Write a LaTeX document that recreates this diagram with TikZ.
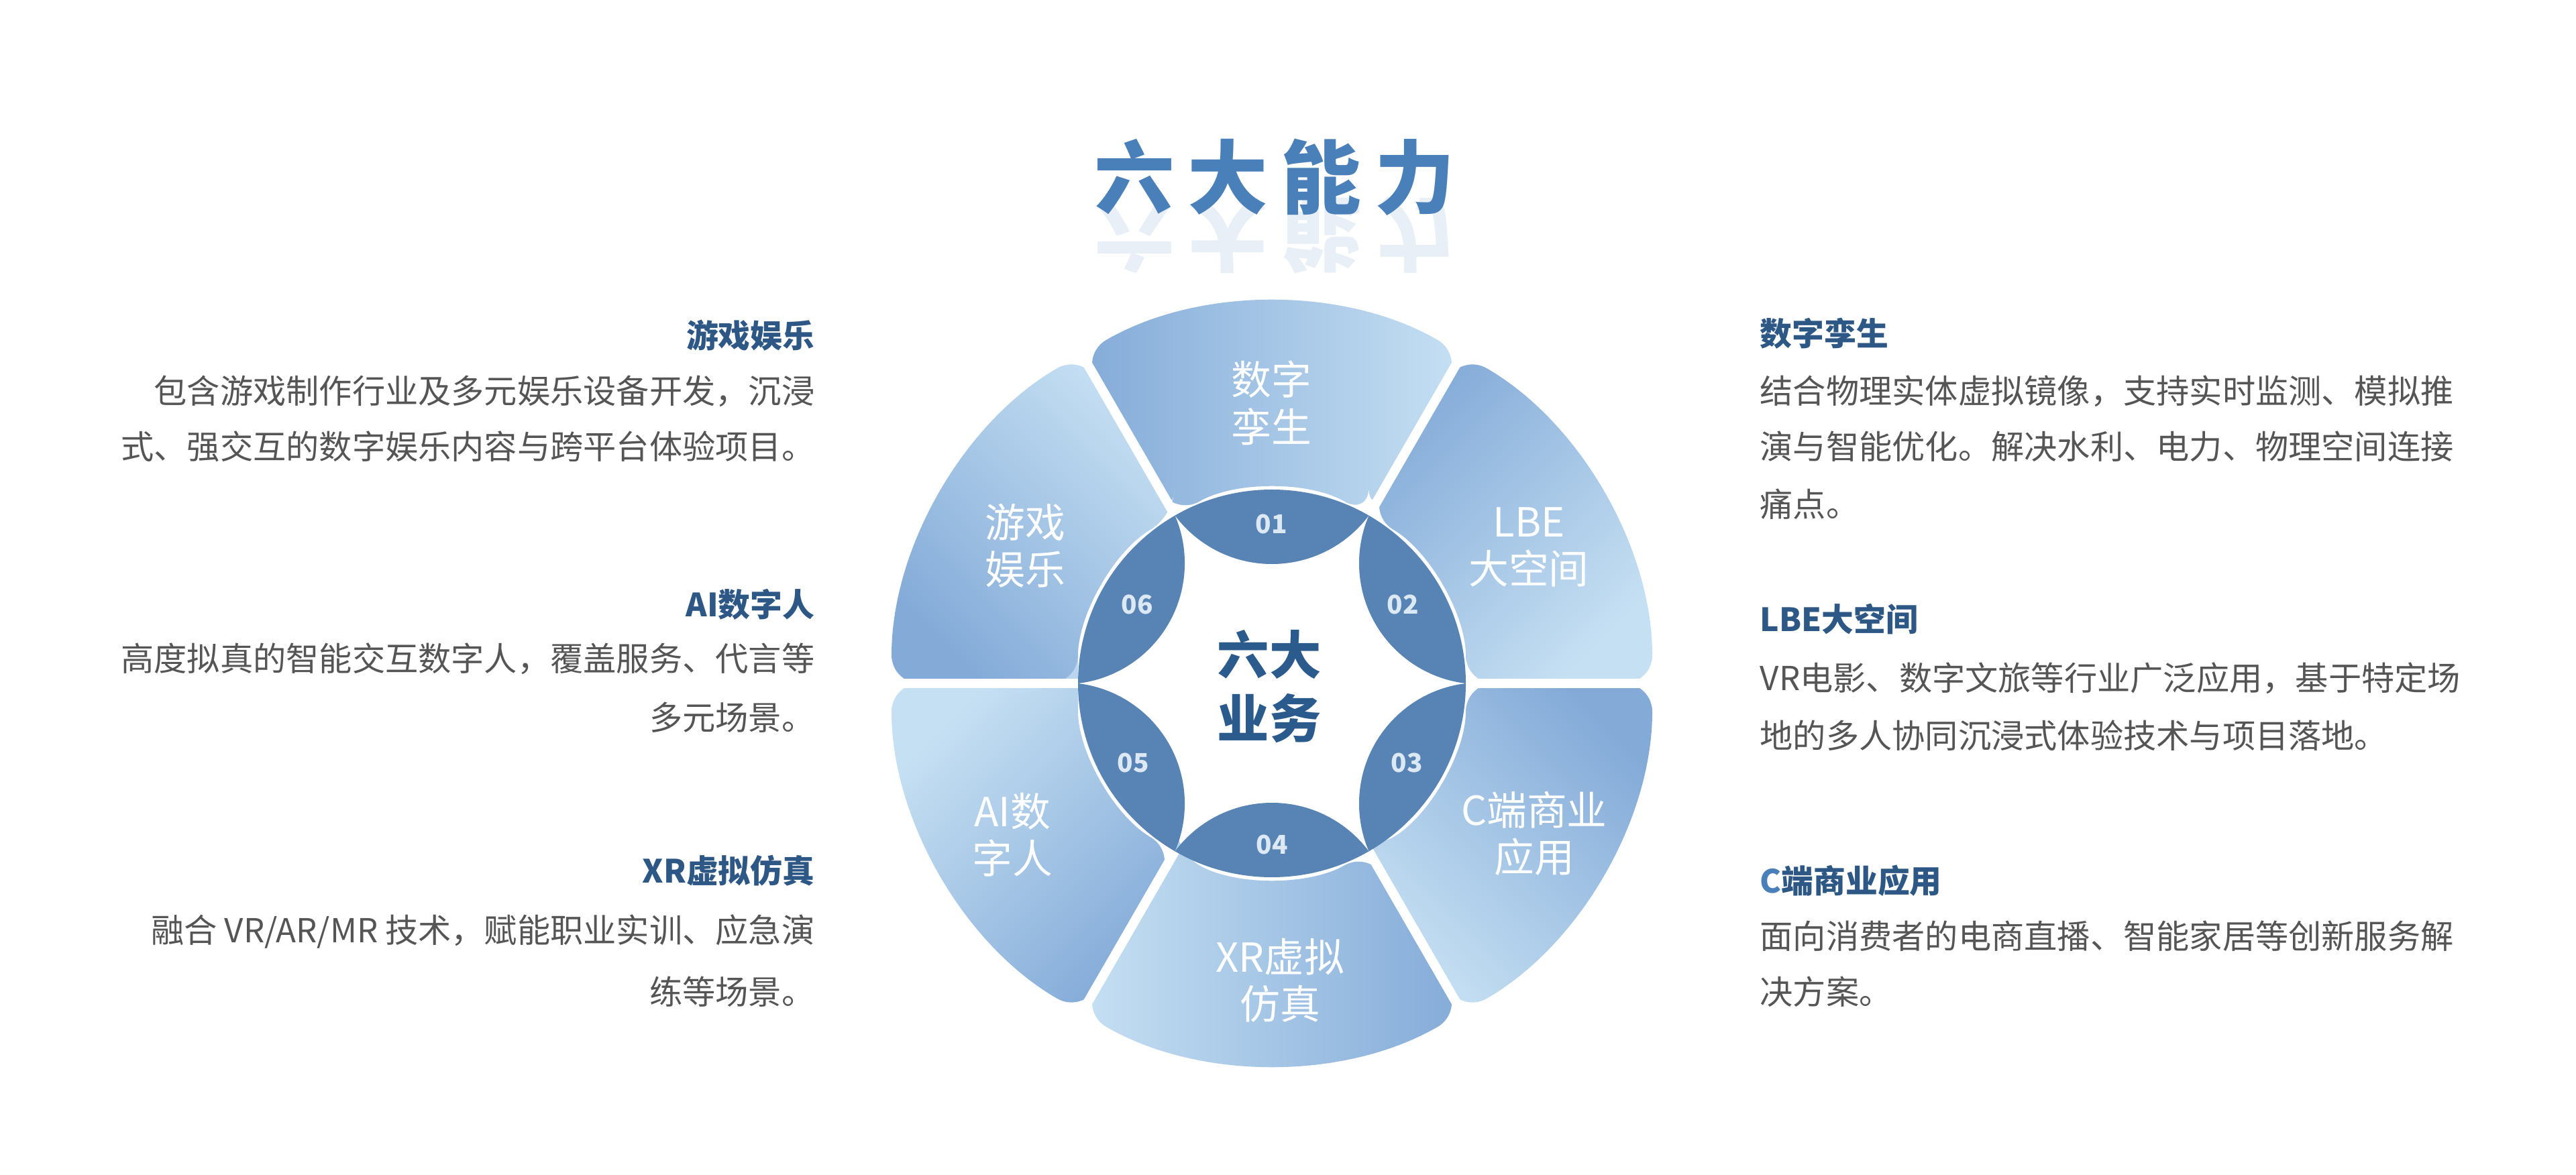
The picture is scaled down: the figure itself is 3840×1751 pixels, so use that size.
\documentclass[tikz,border=0pt]{standalone}
\usepackage{fontspec}
\usetikzlibrary{calc}
\setmainfont{Noto Sans CJK SC}
\newfontfamily\cjk{Noto Sans CJK SC}
\definecolor{lobe}{HTML}{5784B5}
\definecolor{sdark}{HTML}{84ABD8}
\definecolor{slight}{HTML}{C6E0F3}
\definecolor{head}{HTML}{2D5886}
\definecolor{body}{HTML}{555555}
\definecolor{ctext}{HTML}{2B5A8C}
\definecolor{ttl}{HTML}{4A80BA}
\definecolor{numc}{HTML}{DCE8F4}
\tikzset{
 sectlabel/.style={text=white,font=\cjk\fontsize{17}{20}\selectfont,align=center},
 numlabel/.style={text=numc,font=\cjk\bfseries\fontsize{11}{13}\selectfont},
 headl/.style={text=head,font=\cjk\bfseries\fontsize{13.6}{16}\selectfont,inner sep=0},
 bodyl/.style={text=body,font=\cjk\fontsize{14}{16}\selectfont,inner sep=0},
}
\begin{document}
\begin{tikzpicture}[x=0.01cm,y=0.01cm]
\useasboundingbox[fill=white] (0,0) rectangle (3840,1751);
\coordinate (C) at (1896,732);
% title
\node[text=ttl,font=\cjk\bfseries\fontsize{34}{40}\selectfont] (title) at (1900,1487) {六\,大\,能\,力};
\node[text=ttl,opacity=0.12,yscale=-1,font=\cjk\bfseries\fontsize{34}{40}\selectfont] (refl) at (1900,1400) {六\,大\,能\,力};
% sectors
\foreach \a/\sa in {90/90,30/45,-30/-45,-90/-90,-150/-135,150/135}{
  \shade[rounded corners=12, top color=sdark, bottom color=slight, shading angle=\sa]
   ($(C)+(\a-30:289)$) -- ($(C)+(\a-30:567)$) arc[start angle=\a-30,end angle=\a+30,radius=567]
   -- ($(C)+(\a+30:289)$) arc[start angle=\a+30,end angle=\a-30,radius=289] -- cycle;
}
\foreach \a in {0,60,...,300}{
  \draw[white,line width=0.14cm] ($(C)+(\a:287)$) -- ($(C)+(\a:600)$);
}
\begin{scope}
\clip (C) circle (289);
\foreach \a in {90,30,-30,-90,-150,150}{
  \fill[lobe] ($(C)+(\a:358.5)$) circle (180.5);
}
\end{scope}
% center
\node[text=ctext,font=\cjk\bfseries\fontsize{22}{27}\selectfont,align=center] (ctr) at (1892,727) {六大\\业务};
% sector labels
\node[sectlabel] (s1) at (1895,1150) {数字\\孪生};
\node[sectlabel] (s2) at (2279,935) {LBE\\大空间};
\node[sectlabel] (s3) at (2287,508) {C端商业\\应用};
\node[sectlabel] (s4) at (1908,289) {XR虚拟\\仿真};
\node[sectlabel] (s5) at (1509,506) {AI数\\字人};
\node[sectlabel] (s6) at (1528,937) {游戏\\娱乐};
\node[numlabel] (n1) at (1895,970) {01};
\node[numlabel] (n2) at (2091,850) {02};
\node[numlabel] (n3) at (2097,614) {03};
\node[numlabel] (n4) at (1896,492) {04};
\node[numlabel] (n5) at (1689,614) {05};
\node[numlabel] (n6) at (1695,850) {06};
% left texts
\node[headl,anchor=east] (h6) at (1215,1251) {游戏娱乐};
\node[bodyl,anchor=east] (b6a) at (1215,1168) {包含游戏制作行业及多元娱乐设备开发，沉浸};
\node[bodyl,anchor=east] (b6b) at (1215,1085) {式、强交互的数字娱乐内容与跨平台体验项目。};
\node[headl,anchor=east] (h5) at (1215,850) {AI数字人};
\node[bodyl,anchor=east] (b5a) at (1215,769) {高度拟真的智能交互数字人，覆盖服务、代言等};
\node[bodyl,anchor=east] (b5b) at (1215,681) {多元场景。};
\node[headl,anchor=east] (h4) at (1215,453) {XR虚拟仿真};
\node[bodyl,anchor=east] (b4a) at (1215,362) {融合 VR/AR/MR 技术，赋能职业实训、应急演};
\node[bodyl,anchor=east] (b4b) at (1215,272) {练等场景。};
% right texts
\node[headl,anchor=west] (h1) at (2623,1254) {数字孪生};
\node[bodyl,anchor=west] (b1a) at (2623,1168) {结合物理实体虚拟镜像，支持实时监测、模拟推};
\node[bodyl,anchor=west] (b1b) at (2623,1085) {演与智能优化。解决水利、电力、物理空间连接};
\node[bodyl,anchor=west] (b1c) at (2623,999) {痛点。};
\node[headl,anchor=west] (h2) at (2623,828) {LBE大空间};
\node[bodyl,anchor=west] (b2a) at (2623,740) {VR电影、数字文旅等行业广泛应用，基于特定场};
\node[bodyl,anchor=west] (b2b) at (2623,654) {地的多人协同沉浸式体验技术与项目落地。};
\node[headl,anchor=west] (h3) at (2623,438) {\textcolor{ttl}{C}端商业应用};
\node[bodyl,anchor=west] (b3a) at (2623,355) {面向消费者的电商直播、智能家居等创新服务解};
\node[bodyl,anchor=west] (b3b) at (2623,272) {决方案。};
\end{tikzpicture}
\end{document}
